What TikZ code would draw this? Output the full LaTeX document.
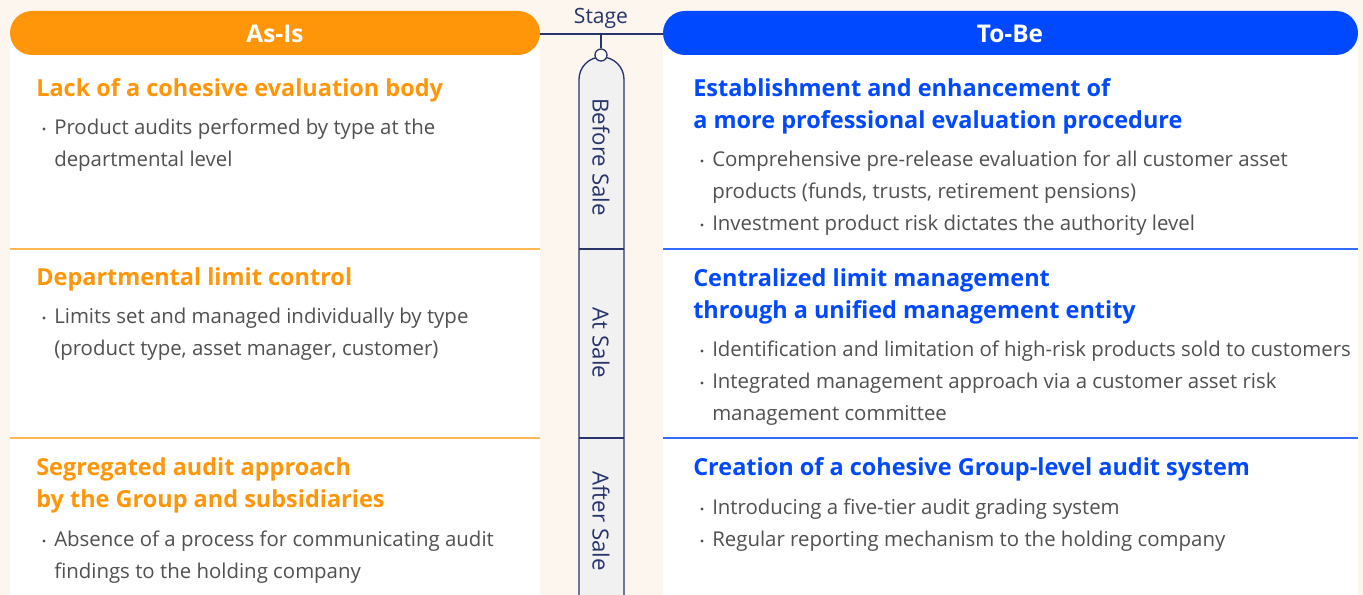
\documentclass[tikz,border=0pt]{standalone}
\usepackage{fontspec}
\setmainfont{Open Sans}
\usetikzlibrary{positioning}

\definecolor{cream}{HTML}{FDF6EE}
\definecolor{asisorange}{HTML}{FF9609}
\definecolor{tobeblue}{HTML}{0049FF}
\definecolor{stagenavy}{HTML}{26346B}
\definecolor{bodygrey}{HTML}{505050}
\definecolor{pillgrey}{HTML}{F1F1F1}

\begin{document}
\begin{tikzpicture}[x=0.75pt,y=-0.75pt,
	title/.style={anchor=west,inner sep=0pt,align=left,font=\bfseries\fontsize{17.6}{24}\selectfont},
	body/.style={anchor=west,inner sep=0pt,align=left,text=bodygrey,font=\fontsize{15.3}{24}\selectfont},
	header/.style={text=white,font=\bfseries\fontsize{18.3}{20}\selectfont},
	phase/.style={rotate=-90,text=stagenavy,font=\fontsize{16.7}{18}\selectfont}]

	\useasboundingbox (0,0) rectangle (1363,595);
	\clip (0,0) rectangle (1363,595);
	\fill[cream] (0,0) rectangle (1363,595);

	% panels and headers
	\fill[white] (10,33) rectangle (540,600);
	\fill[white] (663,33) rectangle (1358,600);
	\fill[asisorange,rounded corners=16.5pt] (10,11) rectangle (540,55);
	\fill[tobeblue,rounded corners=16.5pt] (663,11) rectangle (1358,55);
	\node[header] (asis) at (275,34) {As-Is};
	\node[header] (tobe) at (1010,34) {To-Be};

	\begin{scope}[line width=1.1pt]
		\draw[asisorange!70] (10,249) -- (540,249);
		\draw[asisorange!70] (10,438) -- (540,438);
		\draw[tobeblue!80] (663,249) -- (1358,249);
		\draw[tobeblue!80] (663,438) -- (1358,438);
	\end{scope}

	% stage column
	\begin{scope}[stagenavy,line width=1pt]
		\node[text=stagenavy,font=\fontsize{15.8}{16}\selectfont] (stage) at (601,18) {Stage};
		\coordinate (hl) at (540,34);
		\coordinate (hr) at (663,34);
		\coordinate (hm) at (601,34);
		\draw (hl) -- (hr);
		\draw[fill=pillgrey,rounded corners=16.8pt] (579,57) rectangle (624,620);
		\draw (579,249) -- (624,249);
		\draw (579,438) -- (624,438);
		\node[circle,draw=stagenavy,fill=white,minimum size=9pt,inner sep=0pt] (knob) at (601,55) {};
		\draw (hm) -- (knob.north);
		\node[phase] (beforesale) at (601,157) {Before Sale};
		\node[phase] (atsale) at (601,343) {At Sale};
		\node[phase] (aftersale) at (601,521) {After Sale};
	\end{scope}

	% As-Is
	\begin{scope}[every node/.append style={text=asisorange}]
		\node[title] (asis1) at (36,90.5) {Lack of a cohesive evaluation body};
		\node[title] (asis2) at (36,279.5) {Departmental limit control};
		\node[title] (asis3) at (36,485) {Segregated audit approach\\by the Group and subsidiaries};
	\end{scope}
	\node[body] (asis1a) at (54,145.5) {Product audits performed by type at the\\departmental level};
	\node[body] (asis2a) at (54,334) {Limits set and managed individually by type\\(product type, asset manager, customer)};
	\node[body] (asis3a) at (54,557.5) {Absence of a process for communicating audit\\findings to the holding company};

	% To-Be
	\begin{scope}[every node/.append style={text=tobeblue}]
		\node[title] (tobe1) at (693,106.5) {Establishment and enhancement of\\a more professional evaluation procedure};
		\node[title] (tobe2) at (693,296.5) {Centralized limit management\\through a unified management entity};
		\node[title] (tobe3) at (693,469.5) {Creation of a cohesive Group-level audit system};
	\end{scope}
	\node[body] (tobe1a) at (712,177.5) {Comprehensive pre-release evaluation for all customer asset\\products (funds, trusts, retirement pensions)};
	\node[body] (tobe1b) at (712,225.5) {Investment product risk dictates the authority level};
	\node[body] (tobe2a) at (712,351.5) {Identification and limitation of high-risk products sold to customers};
	\node[body] (tobe2b) at (712,399) {Integrated management approach via a customer asset risk\\management committee};
	\node[body] (tobe3a) at (712,509.5) {Introducing a five-tier audit grading system};
	\node[body] (tobe3b) at (712,541.5) {Regular reporting mechanism to the holding company};

	% bullets
	\foreach \bx/\by in {44/129,44/318,44/541,702/161,702/225,702/351,702/383,702/509,702/541}
		\fill[bodygrey] (\bx,\by) circle (1.6);
\end{tikzpicture}
\end{document}
